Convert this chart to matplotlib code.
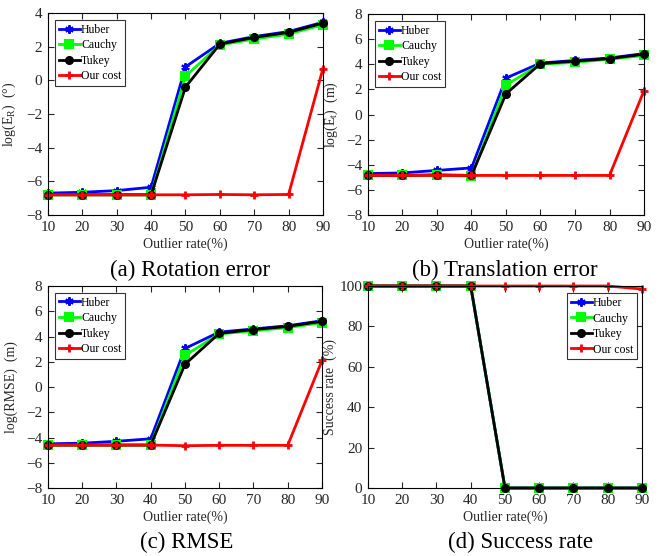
import numpy as np
import matplotlib
matplotlib.use("Agg")
import matplotlib.pyplot as plt

plt.rcParams['font.family'] = ['Liberation Serif', 'DejaVu Serif']
plt.rcParams['mathtext.fontset'] = 'custom'
plt.rcParams['mathtext.rm'] = 'Liberation Serif'
plt.rcParams['mathtext.it'] = 'Liberation Serif:italic'

# Taxa de outliers (eixo x)
outlier_rate = [10, 20, 30, 40, 50, 60, 70, 80, 90]
methods = ['Huber', 'Cauchy', 'Tukey', 'Our cost']

# (a) erro de rotacao
rot_huber = [-6.7, -6.65, -6.55, -6.35, 0.8, 2.2, 2.6, 2.9, 3.45]
rot_cauchy = [-6.8, -6.8, -6.8, -6.8, 0.25, 2.1, 2.45, 2.75, 3.3]
rot_tukey = [-6.8, -6.8, -6.8, -6.8, -0.4, 2.15, 2.55, 2.85, 3.4]
rot_ours = [-6.8, -6.8, -6.8, -6.8, -6.8, -6.78, -6.8, -6.78, 0.7]

# (b) erro de translacao
tra_huber = [-4.7, -4.65, -4.45, -4.25, 2.9, 4.1, 4.3, 4.5, 4.85]
tra_cauchy = [-4.85, -4.85, -4.85, -4.9, 2.35, 4.0, 4.15, 4.4, 4.7]
tra_tukey = [-4.85, -4.85, -4.8, -4.85, 1.65, 4.05, 4.25, 4.45, 4.8]
tra_ours = [-4.85, -4.85, -4.85, -4.85, -4.85, -4.85, -4.85, -4.85, 1.9]

# (c) RMSE
rmse_huber = [-4.5, -4.45, -4.3, -4.1, 3.05, 4.35, 4.6, 4.85, 5.25]
rmse_cauchy = [-4.6, -4.6, -4.6, -4.6, 2.5, 4.2, 4.45, 4.7, 5.1]
rmse_tukey = [-4.6, -4.6, -4.6, -4.6, 1.8, 4.25, 4.55, 4.8, 5.2]
rmse_ours = [-4.6, -4.6, -4.6, -4.6, -4.65, -4.62, -4.62, -4.62, 2.1]

# (d) taxa de sucesso
suc_huber = [100, 100, 100, 100, 0, 0, 0, 0, 0]
suc_cauchy = [100, 100, 100, 100, 0, 0, 0, 0, 0]
suc_tukey = [100, 100, 100, 100, 0, 0, 0, 0, 0]
suc_ours = [100, 100, 100, 100, 100, 100, 100, 100, 98.5]

styles = [
    dict(color='blue', marker=(6, 2, 0), markersize=6, markeredgewidth=1.5),
    dict(color='#00ff00', marker='s', markersize=7.5, markeredgewidth=0),
    dict(color='black', marker='o', markersize=5.5),
    dict(color='red', marker='+', markersize=6, markeredgewidth=2),
]

fig = plt.figure(figsize=(6.61, 5.56), dpi=100)

painel = [
    ([0.0726, 0.6133, 0.416, 0.3633], [rot_huber, rot_cauchy, rot_tukey, rot_ours],
     r'log(E$_\mathrm{R}$)  (°)', (-8, 4), np.arange(-8, 5, 2), 'upper left',
     -0.109, (0.287, 0.503), '(a) Rotation error'),
    ([0.5567, 0.6133, 0.4176, 0.3615], [tra_huber, tra_cauchy, tra_tukey, tra_ours],
     r'log(E$_\mathrm{t}$)  (m)', (-8, 8), np.arange(-8, 9, 2), 'upper left',
     -0.101, (0.764, 0.503), '(b) Translation error'),
    ([0.0726, 0.1223, 0.4145, 0.3633], [rmse_huber, rmse_cauchy, rmse_tukey, rmse_ours],
     'log(RMSE)  (m)', (-8, 8), np.arange(-8, 9, 2), 'upper left',
     -0.109, (0.283, 0.014), '(c) RMSE'),
    ([0.5567, 0.1223, 0.4145, 0.3633], [suc_huber, suc_cauchy, suc_tukey, suc_ours],
     'Success rate  (%)', (0, 100), np.arange(0, 101, 20), 'upper right',
     -0.113, (0.787, 0.014), '(d) Success rate'),
]

for pos, series, ylabel, ylim, yticks, legloc, ylab_x, cap_pos, caption in painel:
    ax = fig.add_axes(pos)
    for nome, y, st in zip(methods, series, styles):
        ax.plot(outlier_rate, y, linewidth=2, label=nome, clip_on=False, **st)
    ax.set_xlim(10, 90)
    ax.set_ylim(*ylim)
    ax.set_xticks(outlier_rate)
    ax.set_yticks(yticks)
    ax.tick_params(direction='in', top=True, right=True, labelsize=11, length=4,
                   colors='#262626', pad=4)
    for s in ax.spines.values():
        s.set_linewidth(0.8)
    ax.set_xlabel('Outlier rate(%)', fontsize=10, color='#262626', labelpad=3)
    ax.set_ylabel(ylabel, fontsize=10, color='#262626')
    ax.yaxis.set_label_coords(ylab_x, 0.5)
    if legloc == 'upper right':
        leg = ax.legend(loc='upper right', bbox_to_anchor=(0.99, 0.975), fontsize=8.5,
                        handlelength=1.8, handletextpad=0.1, borderpad=0.3,
                        labelspacing=0.3, borderaxespad=0.2, fancybox=False,
                        edgecolor='black')
    else:
        leg = ax.legend(loc='upper left', fontsize=8.5, handlelength=1.8,
                        handletextpad=0.1, borderpad=0.3, labelspacing=0.3,
                        borderaxespad=0.6, fancybox=False, edgecolor='black')
    leg.get_frame().set_linewidth(0.8)
    fig.text(cap_pos[0], cap_pos[1], caption, fontsize=16.5, ha='center', va='baseline')

fig.savefig('out.png', dpi=100)
